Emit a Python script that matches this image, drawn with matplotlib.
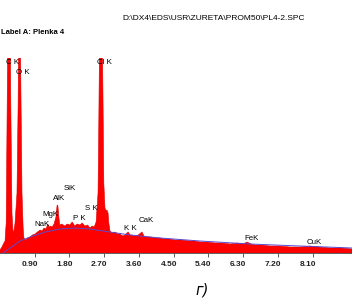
import numpy as np
import matplotlib.pyplot as plt
from matplotlib.transforms import ScaledTranslation

# spectrum (energy in keV, counts in arbitrary units)
energy = [0.00, 0.05, 0.10, 0.13, 0.16, 0.18, 0.21, 0.23, 0.26, 0.28, 0.31, 0.34,
          0.36, 0.39, 0.44, 0.47, 0.49, 0.52, 0.54, 0.57, 0.60, 0.62, 0.67, 0.72,
          0.78, 0.84, 0.91, 0.97, 1.04, 1.09, 1.14, 1.19, 1.24, 1.27, 1.30, 1.35,
          1.40, 1.45, 1.48, 1.50, 1.53, 1.55, 1.60, 1.68, 1.74, 1.81, 1.87, 1.94,
          2.00, 2.07, 2.13, 2.20, 2.27, 2.33, 2.39, 2.44, 2.49, 2.54, 2.56, 2.59,
          2.62, 2.64, 2.67, 2.69, 2.72, 2.75, 2.77, 2.80, 2.82, 2.85, 2.90, 2.98,
          3.05, 3.11, 3.18, 3.24, 3.32, 3.37, 3.42, 3.50, 3.58, 3.68, 3.73, 3.78,
          3.90, 4.02, 4.15, 4.27, 4.40, 4.53, 4.70, 4.92, 5.05, 5.18, 5.35, 5.57,
          5.75, 5.96, 6.15, 6.30, 6.40, 6.50, 6.61, 6.80, 6.99, 7.25, 7.51, 7.80,
          8.03, 8.25, 8.55, 8.85, 9.12]
counts = [3, 6, 10, 12, 30, 120, 260, 260, 260, 150, 40, 20,
          22, 30, 60, 150, 260, 260, 170, 60, 25, 15, 13, 15,
          16, 18, 19, 21, 23, 22, 25, 24, 29, 26, 27, 26,
          29, 36, 48, 47, 34, 28, 29, 27, 29, 28, 31, 27,
          29, 28, 30, 27, 28, 25, 27, 26, 31, 60, 130, 260,
          260, 260, 150, 70, 45, 42, 43, 40, 30, 22, 20, 21,
          19, 19, 17, 18, 21, 18, 18, 17, 18, 21, 17, 16,
          16, 15, 15, 14, 14, 13, 13, 12, 12, 11, 11, 10,
          10, 9, 10, 9, 11, 9, 8, 8, 7, 7, 6, 6,
          7, 6, 5, 5, 4]

# fitted background (blue line)
bg_energy = [0.08, 0.26, 0.52, 0.78, 1.17, 1.55, 1.94, 2.33, 2.85, 3.37, 4.15,
             5.18, 6.48, 7.77, 9.12]
bg_counts = [0, 5, 12, 16, 21, 24, 25, 24, 21, 18, 15, 12, 9, 7, 5]

# peak labels
peak_names = ["C K", "O K", "Cl K", "SiK", "AlK", "MgK", "NaK", "P K", "S K",
              "K K", "CaK", "FeK", "CuK"]
peak_label_e = [0.16, 0.41, 2.51, 1.66, 1.37, 1.11, 0.88, 1.89, 2.20,
                3.21, 3.58, 6.32, 7.95]
peak_label_c = [190, 180, 190, 65, 55, 39, 29, 35, 44, 24, 33, 14, 10]

ticks = [0.90, 1.80, 2.70, 3.60, 4.50, 5.40, 6.30, 7.20, 8.10]

fig = plt.figure(figsize=(3.52, 3.05), dpi=100)
ax = fig.add_axes([0.0, 1 - 253 / 305, 1.0, 195 / 305])

ax.fill_between(energy, 0, counts, color="#ff0000", lw=0.4, edgecolor="#e00000")
ax.plot(bg_energy, bg_counts, color="#5a4ad0", lw=0.7)

for name, e, c in zip(peak_names, peak_label_e, peak_label_c):
    ax.text(e, c, name, fontsize=5.7, family="Liberation Sans", va="center", ha="left")

ax.set_xlim(0, 9.12)
ax.set_ylim(0, 195)
ax.set_yticks([])
ax.set_xticks(ticks)
ax.set_xticklabels(["%.2f" % t for t in ticks], fontsize=6, family="Liberation Sans",
                   fontweight="bold", color="#222222")
ax.tick_params(axis="x", length=3, width=0.6, color="#444444", pad=2.5)
shift = ScaledTranslation(-0.05, 0, fig.dpi_scale_trans)
for lab in ax.get_xticklabels():
    lab.set_transform(lab.get_transform() + shift)
for s in ["top", "left", "right"]:
    ax.spines[s].set_visible(False)
ax.spines["bottom"].set_linewidth(0.6)
ax.spines["bottom"].set_color("#444444")

fig.text(122 / 352, 1 - 18 / 305, r"D:\DX4\EDS\USR\ZURETA\PROM50\PL4-2.SPC",
         fontsize=6, family="Liberation Sans", va="center", ha="left")
fig.text(1 / 352, 1 - 32 / 305, "Label A: Plenka 4", fontsize=5.5,
         family="Liberation Sans", fontweight="bold", va="center", ha="left")
fig.text(202 / 352, 1 - 290 / 305, "г)", fontsize=10.5, style="italic",
         va="center", ha="center")

fig.savefig("out.png", dpi=100)
